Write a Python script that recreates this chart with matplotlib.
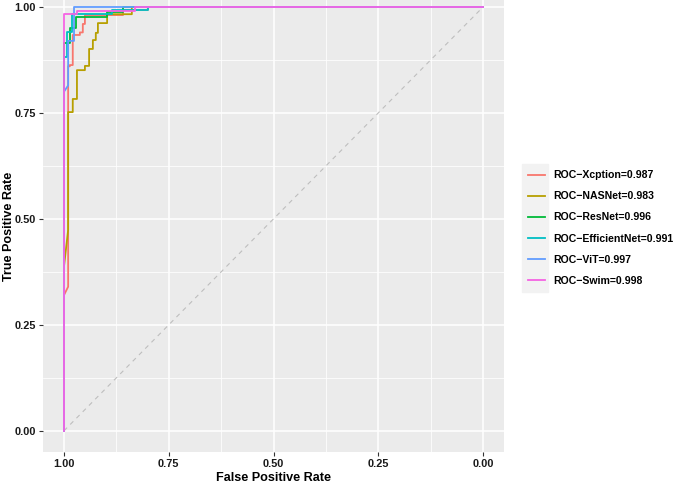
import matplotlib
matplotlib.use("Agg")
import matplotlib.pyplot as plt
from matplotlib.patches import Rectangle

plt.rcParams['font.family'] = ['Liberation Sans', 'DejaVu Sans']

# ROC curves (specificity, sensitivity)
models = ["Xcption", "NASNet", "ResNet", "EfficientNet", "ViT", "Swim"]
aucs = [0.987, 0.983, 0.996, 0.991, 0.997, 0.998]
colors = ["#F8766D", "#B79F00", "#00BA38", "#00BFC4", "#619CFF", "#F564E3"]

spec_xception = [1, 1, 0.99, 0.99, 0.986, 0.986, 0.979, 0.979, 0.962, 0.962, 0.955, 0.955,
                 0.95, 0.95, 0.859, 0.859, 0.80, 0.80, 0]
sens_xception = [0, 0.32, 0.34, 0.86, 0.86, 0.863, 0.863, 0.934, 0.934, 0.94, 0.94, 0.96,
                 0.96, 0.981, 0.981, 0.993, 0.993, 1, 1]

spec_nasnet = [1, 1, 0.99, 0.99, 0.979, 0.979, 0.969, 0.969, 0.95, 0.95, 0.94, 0.94, 0.931, 0.931,
               0.924, 0.924, 0.919, 0.919, 0.897, 0.897, 0.838, 0.838, 0]
sens_nasnet = [0, 0.387, 0.474, 0.752, 0.752, 0.783, 0.783, 0.851, 0.851, 0.861, 0.861, 0.901,
               0.901, 0.922, 0.922, 0.939, 0.939, 0.962, 0.962, 0.983, 0.983, 1, 1]

spec_resnet = [1, 1, 0.985, 0.985, 0.971, 0.971, 0.897, 0.897, 0.86, 0.86, 0]
sens_resnet = [0, 0.915, 0.915, 0.95, 0.95, 0.976, 0.976, 0.988, 0.988, 1, 1]

spec_efficientnet = [1, 1, 0.993, 0.993, 0.98, 0.98, 0.885, 0.885, 0.80, 0.80, 0]
sens_efficientnet = [0, 0.882, 0.882, 0.94, 0.94, 0.983, 0.983, 0.993, 0.993, 1, 1]

spec_vit = [1, 1, 0.99, 0.99, 0.976, 0.976, 0]
sens_vit = [0, 0.80, 0.815, 0.92, 0.92, 1, 1]

spec_swim = [1, 1, 0.97, 0.97, 0.83, 0.83, 0]
sens_swim = [0, 0.983, 0.983, 0.99, 0.99, 1, 1]

specs = [spec_xception, spec_nasnet, spec_resnet, spec_efficientnet, spec_vit, spec_swim]
senss = [sens_xception, sens_nasnet, sens_resnet, sens_efficientnet, sens_vit, sens_swim]

fig = plt.figure(figsize=(6.76, 4.84), dpi=100)
ax = fig.add_axes([43 / 676, 32 / 484, 461 / 676, 452 / 484])
ax.set_facecolor("#EBEBEB")
for s in ax.spines.values():
    s.set_visible(False)

ticks = [0, 0.25, 0.5, 0.75, 1]
minor = [0.125, 0.375, 0.625, 0.875]
ax.set_xticks(ticks)
ax.set_yticks(ticks)
ax.set_xticks(minor, minor=True)
ax.set_yticks(minor, minor=True)
ax.grid(True, which="major", color="white", lw=1.1)
ax.grid(True, which="minor", color="white", lw=0.55)
ax.set_axisbelow(True)
ax.tick_params(which="minor", length=0)
ax.tick_params(which="major", length=3, width=0.8, color="#333333", labelsize=7.9,
               labelcolor="#1a1a1a", pad=2)
ax.set_xticklabels(["0.00", "0.25", "0.50", "0.75", "1.00"], fontweight="bold")
ax.set_yticklabels(["0.00", "0.25", "0.50", "0.75", "1.00"], fontweight="bold")

ax.plot([1, 0], [0, 1], color="#BEBEBE", lw=0.8, ls=(0, (4, 4)))

for name, auc, c, sp, se in zip(models, aucs, colors, specs, senss):
    ax.plot(sp, se, color=c, lw=1.3, label="ROC\u2212%s=%.3f" % (name, auc))

ax.set_xlim(1.05, -0.05)
ax.set_ylim(-0.05, 1.0165)
ax.set_xlabel("False Positive Rate", fontsize=9.1, fontweight="bold", labelpad=2)
ax.set_ylabel("True Positive Rate", fontsize=9.1, fontweight="bold")
ax.yaxis.set_label_coords(-28 / 461, 0.5)

h, l = ax.get_legend_handles_labels()
fig.patches.append(Rectangle((522 / 676, 1 - 292 / 484), 26 / 676, 128 / 484,
                             transform=fig.transFigure, color="#F2F2F2", zorder=1))
fig.legend(h, l, loc="center left", bbox_to_anchor=(523 / 676, 1 - 228 / 484),
           frameon=False, prop={"weight": "bold", "size": 7.6},
           handlelength=1.6, handletextpad=0.75, labelspacing=1.05, borderpad=0)

fig.savefig("out.png", dpi=100)
